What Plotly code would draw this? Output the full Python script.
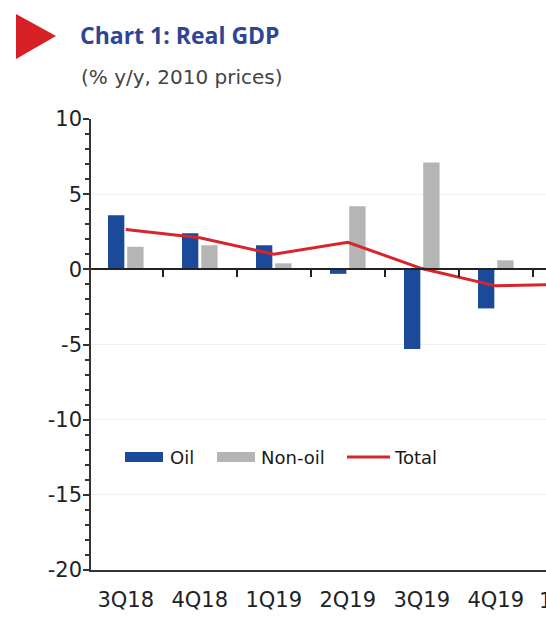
import plotly.graph_objects as go

categories = ["3Q18", "4Q18", "1Q19", "2Q19", "3Q19", "4Q19", "1Q20"]
oil = [3.6, 2.4, 1.6, -0.3, -5.3, -2.6, None]
non_oil = [1.5, 1.6, 0.4, 4.2, 7.1, 0.6, None]
total = [2.65, 2.1, 1.0, 1.8, 0.05, -1.1, -1.0]
y_ticks = [10, 5, 0, -5, -10, -15, -20]
series_names = ["Oil", "Non-oil", "Total"]
series_colors = ["#1B4A9A", "#B5B5B5", "#D7262B"]

W, H = 546, 619
L, R, T, B = 91, 0, 119, 49
pw = W - L - R
ph = H - T - B

def px(x):
    return (x - L) / pw

def py(y):
    return (H - B - y) / ph

fig = go.Figure()
fig.add_trace(go.Bar(x=categories, y=oil, name=series_names[0], marker_color=series_colors[0],
                     marker_line_width=0))
fig.add_trace(go.Bar(x=categories, y=non_oil, name=series_names[1], marker_color=series_colors[1],
                     marker_line_width=0))
fig.add_trace(go.Scatter(x=categories, y=total, name=series_names[2], mode="lines",
                         line=dict(color=series_colors[2], width=3)))
# helper trace for the zero-line category axis
fig.add_trace(go.Scatter(x=categories, y=[None] * len(categories), xaxis="x2",
                         showlegend=False, hoverinfo="skip", mode="lines"))

xr = [-0.47, -0.47 + pw / 74.0]
TF = 21

fig.update_layout(
    width=W, height=H,
    margin=dict(l=L, r=R, t=T, b=B, pad=0),
    paper_bgcolor="white", plot_bgcolor="white",
    barmode="group", bargap=0.48, bargroupgap=0.15,
    font=dict(family="DejaVu Sans", color="#222222"),
    showlegend=False,
    xaxis=dict(type="category", categoryorder="array", categoryarray=categories,
               range=xr, showgrid=False, zeroline=False, showline=True,
               linecolor="#333333", linewidth=1.5, ticks="", tickfont=dict(size=TF, color="#222222"),
               ticklen=0, fixedrange=True, ticklabelstandoff=10),
    xaxis2=dict(type="category", categoryorder="array", categoryarray=categories,
                range=xr, overlaying="x", anchor="free", position=20 / 30,
                showgrid=False, zeroline=False, showline=True, linecolor="#222222",
                linewidth=1.5, ticks="outside", tickson="boundaries", ticklen=7,
                tickwidth=2, tickcolor="#222222", showticklabels=False, side="bottom"),
    yaxis=dict(range=[-20, 10], tickvals=y_ticks, ticktext=[str(v) for v in y_ticks],
               showgrid=True, gridcolor="#F0F0F0", gridwidth=1, zeroline=False,
               showline=True, linecolor="#333333", linewidth=1.5,
               ticks="outside", ticklen=6, tickwidth=1.5, tickcolor="#333333",
               minor=dict(dtick=1, ticks="outside", ticklen=4, tickcolor="#333333", showgrid=False),
               tickfont=dict(size=TF, color="#222222"), ticklabelstandoff=-3),
)

# partially visible last category label (cut off by the figure edge)
fig.add_annotation(text=categories[-1], xref="paper", yref="paper", x=px(567), y=py(601),
                   showarrow=False, font=dict(size=TF, family="DejaVu Sans", color="#222222"),
                   xanchor="center", yanchor="middle")

# custom legend (wide swatches as in the reference)
leg_y = 457
swatches = [(125, 163), (217, 255), (347, 390)]
text_x = [168, 259, 392]
for i, (x0, x1) in enumerate(swatches):
    if i < 2:
        fig.add_shape(type="rect", xref="paper", yref="paper",
                      x0=px(x0), x1=px(x1), y0=py(leg_y + 5), y1=py(leg_y - 5),
                      fillcolor=series_colors[i], line=dict(width=0))
    else:
        fig.add_shape(type="line", xref="paper", yref="paper",
                      x0=px(x0), x1=px(x1), y0=py(leg_y), y1=py(leg_y),
                      line=dict(color=series_colors[i], width=3))
    fig.add_annotation(text=series_names[i], xref="paper", yref="paper",
                       x=px(text_x[i]), y=py(leg_y), xanchor="left", yanchor="middle",
                       showarrow=False, font=dict(size=18, family="DejaVu Sans", color="#1A1A1A"))

# title block
fig.add_shape(type="path", xref="paper", yref="paper",
              path=f"M {px(16)} {py(14)} L {px(16)} {py(59)} L {px(56)} {py(36)} Z",
              fillcolor="#D71F26", line=dict(width=0))
fig.add_annotation(text="<b>Chart 1: Real GDP</b>", xref="paper", yref="paper",
                   x=px(78), y=py(35), xanchor="left", yanchor="middle", showarrow=False,
                   font=dict(family="Open Sans", size=23, color="#2F4592"))
fig.add_annotation(text="(% y/y, 2010 prices)", xref="paper", yref="paper",
                   x=px(79), y=py(77), xanchor="left", yanchor="middle", showarrow=False,
                   font=dict(family="DejaVu Sans", size=20, color="#444444"))

fig.write_html("out.html", config={"displayModeBar": False},
               post_script="document.body.style.margin='0px';")
